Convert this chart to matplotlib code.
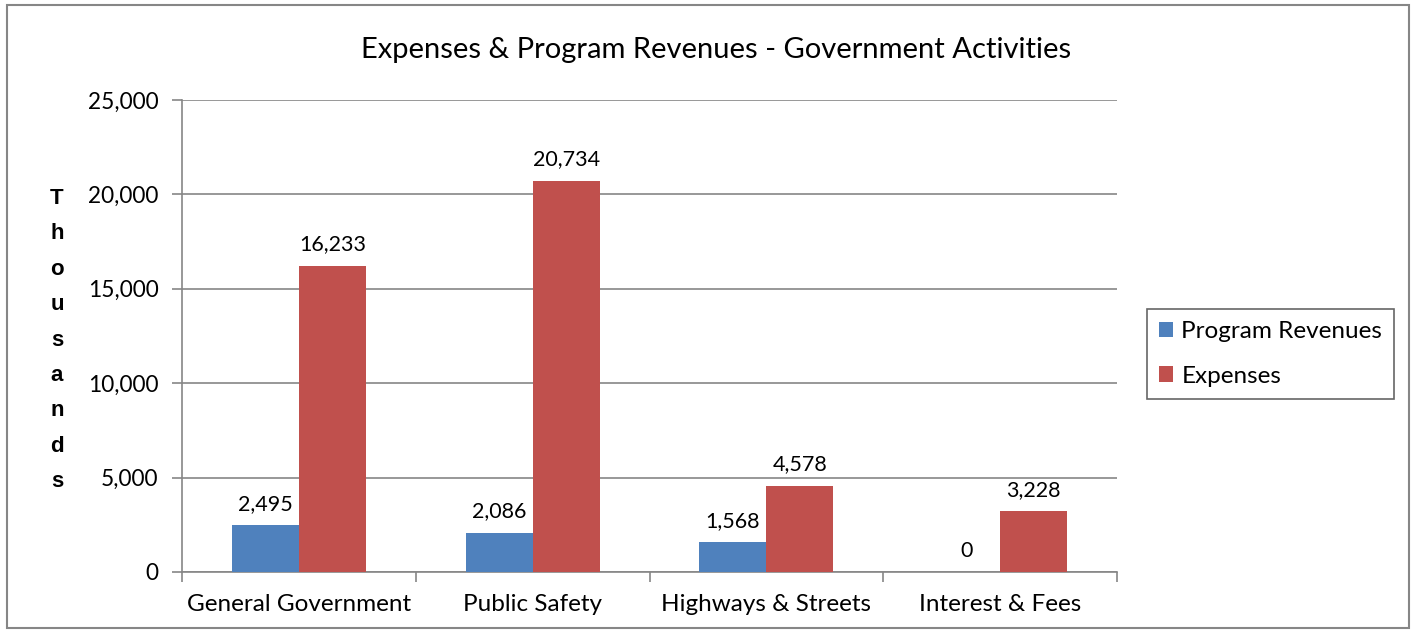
import matplotlib
matplotlib.use("Agg")
import matplotlib.pyplot as plt
from matplotlib.patches import Rectangle
import numpy as np

categories = ["General Government", "Public Safety", "Highways & Streets", "Interest & Fees"]
program_revenues = [2495, 2086, 1568, 0]
expenses = [16233, 20734, 4578, 3228]
yticks = [0, 5000, 10000, 15000, 20000, 25000]

plt.rcParams['font.family'] = ['Lato', 'DejaVu Sans']
W, H = 1416, 633
fig = plt.figure(figsize=(W/100, H/100), dpi=100)
ax = fig.add_axes([182/W, (H-572)/H, (1117-182)/W, (572-100)/H])

x = np.arange(len(categories))
bw = 0.287
blue = "#4F81BD"
red = "#C0504D"
b1 = ax.bar(x - bw/2, program_revenues, bw, color=blue, label="Program Revenues", zorder=3)
b2 = ax.bar(x + bw/2, expenses, bw, color=red, label="Expenses", zorder=3)

for bars, vals in ((b1, program_revenues), (b2, expenses)):
    for r, v in zip(bars, vals):
        ax.annotate(f"{v:,}", (r.get_x() + r.get_width()/2, v), xytext=(0, 8),
                    textcoords="offset points", ha="center", va="bottom", fontsize=15.5)

ax.set_xlim(-0.5, len(categories) - 0.5)
ax.set_ylim(0, 25000)
ax.set_yticks(yticks)
ax.set_yticklabels([f"{t:,}" for t in yticks], fontsize=16.3)
ax.yaxis.grid(True, color="#868686", linewidth=1.2, zorder=0)
ax.set_axisbelow(True)

ax.set_xticks(x)
ax.set_xticklabels(categories, fontsize=17.5)
ax.tick_params(axis='x', length=0, pad=16)
ax.set_xticks(np.arange(-0.5, len(categories)), minor=True)
ax.tick_params(axis='x', which='minor', length=7, color="#868686", width=1.2)
ax.tick_params(axis='y', length=7, color="#868686", width=1.2, pad=10)

for s in ("top", "right"):
    ax.spines[s].set_visible(False)
for s in ("left", "bottom"):
    ax.spines[s].set_color("#868686")
    ax.spines[s].set_linewidth(1.2)

fig.text(716/W, 1 - 50/H, "Expenses & Program Revenues - Government Activities",
         ha="center", va="center", fontsize=21)

fig.text(57/W, 1 - 340/H, "\n".join("Thousands"), ha="center", va="center",
         fontsize=16, fontweight="bold", linespacing=1.9, family=["Liberation Sans", "DejaVu Sans"])

leg = ax.legend(loc="center left", bbox_to_anchor=(1147/W, 1 - 354/H), bbox_transform=fig.transFigure,
                fontsize=17.5, frameon=True, fancybox=False, handlelength=0.58, handleheight=0.58,
                handletextpad=0.33, labelspacing=0.95, borderpad=0.5, borderaxespad=0)
leg.get_frame().set_edgecolor("#404040")
leg.get_frame().set_linewidth(1.2)

fig.patches.append(Rectangle((7/W, 5/H), (1409-7)/W, (628-5)/H, transform=fig.transFigure,
                             fill=False, edgecolor="#868686", linewidth=1.5))

fig.savefig("out.png", dpi=100)
